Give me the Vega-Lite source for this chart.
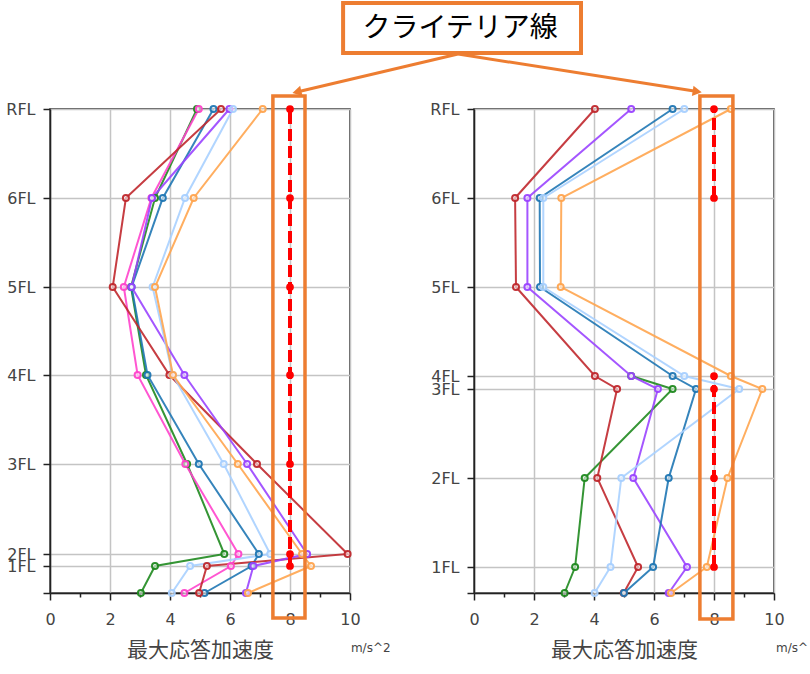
{
  "$schema": "https://vega.github.io/schema/vega-lite/v6.json",
  "padding": {"left": 5, "top": 0, "right": 0, "bottom": 5},
  "autosize": {"type": "pad"},
  "background": "white",
  "bounds": "flush",
  "spacing": 124,
  "datasets": {
    "main": [
      {"panel": "L", "series": "C", "floor": "GL", "h": 0, "v": 3.03},
      {"panel": "L", "series": "C", "floor": "1FL", "h": 27, "v": 3.5},
      {"panel": "L", "series": "C", "floor": "2FL", "h": 39, "v": 5.81},
      {"panel": "L", "series": "C", "floor": "3FL", "h": 129, "v": 4.57},
      {"panel": "L", "series": "C", "floor": "4FL", "h": 218, "v": 3.2},
      {"panel": "L", "series": "C", "floor": "5FL", "h": 306, "v": 2.7},
      {"panel": "L", "series": "C", "floor": "6FL", "h": 395, "v": 3.5},
      {"panel": "L", "series": "C", "floor": "RFL", "h": 484, "v": 4.9},
      {"panel": "L", "series": "B", "floor": "GL", "h": 0, "v": 4.48},
      {"panel": "L", "series": "B", "floor": "1FL", "h": 27, "v": 6.03},
      {"panel": "L", "series": "B", "floor": "2FL", "h": 39, "v": 6.28},
      {"panel": "L", "series": "B", "floor": "3FL", "h": 129, "v": 4.51},
      {"panel": "L", "series": "B", "floor": "4FL", "h": 218, "v": 2.92},
      {"panel": "L", "series": "B", "floor": "5FL", "h": 306, "v": 2.46},
      {"panel": "L", "series": "B", "floor": "6FL", "h": 395, "v": 3.38},
      {"panel": "L", "series": "B", "floor": "RFL", "h": 484, "v": 4.96},
      {"panel": "L", "series": "D", "floor": "GL", "h": 0, "v": 5.15},
      {"panel": "L", "series": "D", "floor": "1FL", "h": 27, "v": 6.72},
      {"panel": "L", "series": "D", "floor": "2FL", "h": 39, "v": 6.96},
      {"panel": "L", "series": "D", "floor": "3FL", "h": 129, "v": 4.96},
      {"panel": "L", "series": "D", "floor": "4FL", "h": 218, "v": 3.25},
      {"panel": "L", "series": "D", "floor": "5FL", "h": 306, "v": 2.72},
      {"panel": "L", "series": "D", "floor": "6FL", "h": 395, "v": 3.76},
      {"panel": "L", "series": "D", "floor": "RFL", "h": 484, "v": 5.45},
      {"panel": "L", "series": "A", "floor": "GL", "h": 0, "v": 4.97},
      {"panel": "L", "series": "A", "floor": "1FL", "h": 27, "v": 5.23},
      {"panel": "L", "series": "A", "floor": "2FL", "h": 39, "v": 9.92},
      {"panel": "L", "series": "A", "floor": "3FL", "h": 129, "v": 6.9},
      {"panel": "L", "series": "A", "floor": "4FL", "h": 218, "v": 3.98},
      {"panel": "L", "series": "A", "floor": "5FL", "h": 306, "v": 2.09},
      {"panel": "L", "series": "A", "floor": "6FL", "h": 395, "v": 2.53},
      {"panel": "L", "series": "A", "floor": "RFL", "h": 484, "v": 5.7},
      {"panel": "L", "series": "E", "floor": "GL", "h": 0, "v": 6.53},
      {"panel": "L", "series": "E", "floor": "1FL", "h": 27, "v": 6.78},
      {"panel": "L", "series": "E", "floor": "2FL", "h": 39, "v": 8.57},
      {"panel": "L", "series": "E", "floor": "3FL", "h": 129, "v": 6.57},
      {"panel": "L", "series": "E", "floor": "4FL", "h": 218, "v": 4.48},
      {"panel": "L", "series": "E", "floor": "5FL", "h": 306, "v": 2.72},
      {"panel": "L", "series": "E", "floor": "6FL", "h": 395, "v": 3.4},
      {"panel": "L", "series": "E", "floor": "RFL", "h": 484, "v": 5.98},
      {"panel": "L", "series": "F", "floor": "GL", "h": 0, "v": 4.06},
      {"panel": "L", "series": "F", "floor": "1FL", "h": 27, "v": 4.67},
      {"panel": "L", "series": "F", "floor": "2FL", "h": 39, "v": 7.34},
      {"panel": "L", "series": "F", "floor": "3FL", "h": 129, "v": 5.79},
      {"panel": "L", "series": "F", "floor": "4FL", "h": 218, "v": 4.09},
      {"panel": "L", "series": "F", "floor": "5FL", "h": 306, "v": 3.42},
      {"panel": "L", "series": "F", "floor": "6FL", "h": 395, "v": 4.5},
      {"panel": "L", "series": "F", "floor": "RFL", "h": 484, "v": 6.1},
      {"panel": "L", "series": "G", "floor": "GL", "h": 0, "v": 6.6},
      {"panel": "L", "series": "G", "floor": "1FL", "h": 27, "v": 8.7},
      {"panel": "L", "series": "G", "floor": "2FL", "h": 39, "v": 8.4},
      {"panel": "L", "series": "G", "floor": "3FL", "h": 129, "v": 6.26},
      {"panel": "L", "series": "G", "floor": "4FL", "h": 218, "v": 4.1},
      {"panel": "L", "series": "G", "floor": "5FL", "h": 306, "v": 3.5},
      {"panel": "L", "series": "G", "floor": "6FL", "h": 395, "v": 4.79},
      {"panel": "L", "series": "G", "floor": "RFL", "h": 484, "v": 7.09},
      {"panel": "R", "series": "C", "floor": "GL", "h": 0, "v": 3.02},
      {"panel": "R", "series": "C", "floor": "1FL", "h": 26, "v": 3.37},
      {"panel": "R", "series": "C", "floor": "2FL", "h": 115, "v": 3.69},
      {"panel": "R", "series": "C", "floor": "3FL", "h": 204, "v": 6.62},
      {"panel": "R", "series": "C", "floor": "4FL", "h": 217, "v": 5.24},
      {"panel": "R", "series": "A", "floor": "GL", "h": 0, "v": 4.99},
      {"panel": "R", "series": "A", "floor": "1FL", "h": 26, "v": 5.47},
      {"panel": "R", "series": "A", "floor": "2FL", "h": 115, "v": 4.11},
      {"panel": "R", "series": "A", "floor": "3FL", "h": 204, "v": 4.77},
      {"panel": "R", "series": "A", "floor": "4FL", "h": 217, "v": 4.03},
      {"panel": "R", "series": "A", "floor": "5FL", "h": 306, "v": 1.4},
      {"panel": "R", "series": "A", "floor": "6FL", "h": 395, "v": 1.37},
      {"panel": "R", "series": "A", "floor": "RFL", "h": 484, "v": 4.03},
      {"panel": "R", "series": "E", "floor": "GL", "h": 0, "v": 6.49},
      {"panel": "R", "series": "E", "floor": "1FL", "h": 26, "v": 7.1},
      {"panel": "R", "series": "E", "floor": "2FL", "h": 115, "v": 5.31},
      {"panel": "R", "series": "E", "floor": "3FL", "h": 204, "v": 6.13},
      {"panel": "R", "series": "E", "floor": "4FL", "h": 217, "v": 5.24},
      {"panel": "R", "series": "E", "floor": "5FL", "h": 306, "v": 1.78},
      {"panel": "R", "series": "E", "floor": "6FL", "h": 395, "v": 1.78},
      {"panel": "R", "series": "E", "floor": "RFL", "h": 484, "v": 5.24},
      {"panel": "R", "series": "D", "floor": "GL", "h": 0, "v": 5.0},
      {"panel": "R", "series": "D", "floor": "1FL", "h": 26, "v": 5.97},
      {"panel": "R", "series": "D", "floor": "2FL", "h": 115, "v": 6.49},
      {"panel": "R", "series": "D", "floor": "3FL", "h": 204, "v": 7.4},
      {"panel": "R", "series": "D", "floor": "4FL", "h": 217, "v": 6.62},
      {"panel": "R", "series": "D", "floor": "5FL", "h": 306, "v": 2.2},
      {"panel": "R", "series": "D", "floor": "6FL", "h": 395, "v": 2.19},
      {"panel": "R", "series": "D", "floor": "RFL", "h": 484, "v": 6.62},
      {"panel": "R", "series": "F", "floor": "GL", "h": 0, "v": 4.02},
      {"panel": "R", "series": "F", "floor": "1FL", "h": 26, "v": 4.55},
      {"panel": "R", "series": "F", "floor": "2FL", "h": 115, "v": 4.91},
      {"panel": "R", "series": "F", "floor": "3FL", "h": 204, "v": 8.84},
      {"panel": "R", "series": "F", "floor": "4FL", "h": 217, "v": 7.01},
      {"panel": "R", "series": "F", "floor": "5FL", "h": 306, "v": 2.31},
      {"panel": "R", "series": "F", "floor": "6FL", "h": 395, "v": 2.31},
      {"panel": "R", "series": "F", "floor": "RFL", "h": 484, "v": 7.01},
      {"panel": "R", "series": "G", "floor": "GL", "h": 0, "v": 6.57},
      {"panel": "R", "series": "G", "floor": "1FL", "h": 26, "v": 7.76},
      {"panel": "R", "series": "G", "floor": "2FL", "h": 115, "v": 8.45},
      {"panel": "R", "series": "G", "floor": "3FL", "h": 204, "v": 9.61},
      {"panel": "R", "series": "G", "floor": "4FL", "h": 217, "v": 8.56},
      {"panel": "R", "series": "G", "floor": "5FL", "h": 306, "v": 2.89},
      {"panel": "R", "series": "G", "floor": "6FL", "h": 395, "v": 2.91},
      {"panel": "R", "series": "G", "floor": "RFL", "h": 484, "v": 8.56}
    ],
    "crit": [
      {"panel": "L", "seg": "a", "floor": "1FL", "h": 27, "v": 8},
      {"panel": "L", "seg": "a", "floor": "2FL", "h": 39, "v": 8},
      {"panel": "L", "seg": "a", "floor": "3FL", "h": 129, "v": 8},
      {"panel": "L", "seg": "a", "floor": "4FL", "h": 218, "v": 8},
      {"panel": "L", "seg": "a", "floor": "5FL", "h": 306, "v": 8},
      {"panel": "L", "seg": "a", "floor": "6FL", "h": 395, "v": 8},
      {"panel": "L", "seg": "a", "floor": "RFL", "h": 484, "v": 8},
      {"panel": "R", "seg": "a", "floor": "6FL", "h": 395, "v": 8},
      {"panel": "R", "seg": "a", "floor": "RFL", "h": 484, "v": 8},
      {"panel": "R", "seg": "b", "floor": "1FL", "h": 26, "v": 8},
      {"panel": "R", "seg": "b", "floor": "2FL", "h": 115, "v": 8},
      {"panel": "R", "seg": "b", "floor": "3FL", "h": 204, "v": 8},
      {"panel": "R", "seg": "b", "floor": "4FL", "h": 217, "v": 8}
    ]
  },
  "hconcat": [
    {
      "width": 300,
      "height": 484,
      "resolve": {"axis": {"x": "independent"}},
      "layer": [
        {
          "layer": [
            {
              "data": {"name": "main"},
              "transform": [{"filter": "datum.panel == 'L'"}],
              "mark": {"type": "line", "strokeWidth": 2, "opacity": 0.9},
              "encoding": {
                "x": {"field": "v", "type": "quantitative", "scale": {"domain": [0, 10], "nice": false, "zero": false},
                  "axis": {"values": [0, 2, 4, 6, 8, 10], "title": "最大応答加速度", "tickSize": 7, "labelPadding": 11, "titlePadding": 12, "labelFlush": false, "grid": true, "format": "d"}},
                "y": {"field": "h", "type": "quantitative", "scale": {"domain": [0, 484], "nice": false, "zero": false},
                  "axis": {"values": [0, 27, 39, 129, 218, 306, 395, 484], "labelExpr": "datum.value == 484 ? 'RFL' : datum.value == 395 ? '6FL' : datum.value == 306 ? '5FL' : datum.value == 218 ? '4FL' : datum.value == 129 ? '3FL' : datum.value == 39 ? '2FL' : datum.value == 27 ? '1FL' : ''", "title": null, "tickSize": 7, "labelPadding": 8, "labelOverlap": false, "labelFlush": false, "grid": true}},
                "color": {"field": "series", "type": "nominal", "legend": null,
                  "scale": {"domain": ["A", "B", "C", "D", "E", "F", "G"], "range": ["#c0282d", "#ff44cc", "#1f8a1f", "#1f77b4", "#9a44ff", "#a8d0ff", "#ffa54f"]}},
                "order": {"field": "h", "type": "quantitative"}
              }
            },
            {
              "data": {"name": "main"},
              "transform": [{"filter": "datum.panel == 'L'"}],
              "mark": {"type": "point", "filled": false, "fill": "white", "fillOpacity": 0.6, "size": 36, "strokeWidth": 2, "opacity": 0.95},
              "encoding": {
                "x": {"field": "v", "type": "quantitative"},
                "y": {"field": "h", "type": "quantitative"},
                "color": {"field": "series", "type": "nominal", "legend": null}
              }
            },
            {
              "data": {"name": "crit"},
              "transform": [{"filter": "datum.panel == 'L'"}],
              "mark": {"type": "line", "color": "#ff0000", "strokeWidth": 4, "strokeDash": [12, 5]},
              "encoding": {
                "x": {"field": "v", "type": "quantitative"},
                "y": {"field": "h", "type": "quantitative"},
                "detail": {"field": "seg"},
                "order": {"field": "h", "type": "quantitative"}
              }
            },
            {
              "data": {"name": "crit"},
              "transform": [{"filter": "datum.panel == 'L'"}],
              "mark": {"type": "circle", "color": "#ff0000", "size": 60, "opacity": 1},
              "encoding": {
                "x": {"field": "v", "type": "quantitative"},
                "y": {"field": "h", "type": "quantitative"}
              }
            },
            {
              "data": {"values": [{}]},
              "mark": {"type": "rect", "fill": "white", "fillOpacity": 0, "stroke": "#ED7D31", "strokeWidth": 3.5},
              "encoding": {
                "x": {"datum": 7.43, "type": "quantitative"}, "x2": {"datum": 8.5},
                "y": {"datum": 497, "type": "quantitative"}, "y2": {"datum": -25}
              }
            },
            {
              "data": {"values": [{}]},
              "mark": {"type": "rect", "fill": "white", "stroke": "#ED7D31", "strokeWidth": 4},
              "encoding": {
                "x": {"datum": 9.77, "type": "quantitative"}, "x2": {"datum": 17.7},
                "y": {"datum": 590, "type": "quantitative"}, "y2": {"datum": 540}
              }
            },
            {
              "data": {"values": [{}]},
              "mark": {"type": "text", "font": "Noto Sans CJK JP", "fontSize": 28, "color": "#000000", "align": "center", "baseline": "middle"},
              "encoding": {
                "x": {"datum": 13.67, "type": "quantitative"},
                "y": {"datum": 564.5, "type": "quantitative"},
                "text": {"value": "クライテリア線"}
              }
            },
            {
              "data": {"values": [{}]},
              "mark": {"type": "rule", "color": "#ED7D31", "strokeWidth": 3},
              "encoding": {
                "x": {"datum": 13.6, "type": "quantitative"}, "x2": {"datum": 8.23},
                "y": {"datum": 539, "type": "quantitative"}, "y2": {"datum": 501}
              }
            },
            {
              "data": {"values": [{}]},
              "mark": {"type": "point", "shape": "triangle-up", "filled": true, "color": "#ED7D31", "size": 110, "angle": 256.8, "opacity": 1},
              "encoding": {
                "x": {"datum": 8.23, "type": "quantitative"},
                "y": {"datum": 501, "type": "quantitative"}
              }
            },
            {
              "data": {"values": [{}]},
              "mark": {"type": "text", "font": "DejaVu Sans", "fontSize": 12, "color": "#444444", "align": "left", "baseline": "middle"},
              "encoding": {
                "x": {"datum": 10.03, "type": "quantitative"},
                "y": {"datum": -55, "type": "quantitative"},
                "text": {"value": "m/s^2"}
              }
            }
          ]
        },
        {
          "mark": {"type": "rule", "opacity": 0},
          "encoding": {
            "x": {"datum": 0, "type": "quantitative", "scale": {"domain": [0, 10], "nice": false, "zero": false},
              "axis": {"values": [1, 3, 5, 7, 9], "labels": false, "grid": false, "domain": false, "ticks": true, "tickSize": 4, "title": null, "orient": "bottom"}}
          }
        }
      ]
    },
    {
      "width": 300,
      "height": 484,
      "resolve": {"axis": {"x": "independent"}},
      "layer": [
        {
          "layer": [
            {
              "data": {"name": "main"},
              "transform": [{"filter": "datum.panel == 'R'"}],
              "mark": {"type": "line", "strokeWidth": 2, "opacity": 0.9},
              "encoding": {
                "x": {"field": "v", "type": "quantitative", "scale": {"domain": [0, 10], "nice": false, "zero": false},
                  "axis": {"values": [0, 2, 4, 6, 8, 10], "title": "最大応答加速度", "tickSize": 7, "labelPadding": 11, "titlePadding": 12, "labelFlush": false, "grid": true, "format": "d"}},
                "y": {"field": "h", "type": "quantitative", "scale": {"domain": [0, 484], "nice": false, "zero": false},
                  "axis": {"values": [0, 26, 115, 204, 217, 306, 395, 484], "labelExpr": "datum.value == 484 ? 'RFL' : datum.value == 395 ? '6FL' : datum.value == 306 ? '5FL' : datum.value == 217 ? '4FL' : datum.value == 204 ? '3FL' : datum.value == 115 ? '2FL' : datum.value == 26 ? '1FL' : ''", "title": null, "tickSize": 7, "labelPadding": 8, "labelOverlap": false, "labelFlush": false, "grid": true}},
                "color": {"field": "series", "type": "nominal", "legend": null,
                  "scale": {"domain": ["A", "B", "C", "D", "E", "F", "G"], "range": ["#c0282d", "#ff44cc", "#1f8a1f", "#1f77b4", "#9a44ff", "#a8d0ff", "#ffa54f"]}},
                "order": {"field": "h", "type": "quantitative"}
              }
            },
            {
              "data": {"name": "main"},
              "transform": [{"filter": "datum.panel == 'R'"}],
              "mark": {"type": "point", "filled": false, "fill": "white", "fillOpacity": 0.6, "size": 36, "strokeWidth": 2, "opacity": 0.95},
              "encoding": {
                "x": {"field": "v", "type": "quantitative"},
                "y": {"field": "h", "type": "quantitative"},
                "color": {"field": "series", "type": "nominal", "legend": null}
              }
            },
            {
              "data": {"name": "crit"},
              "transform": [{"filter": "datum.panel == 'R'"}],
              "mark": {"type": "line", "color": "#ff0000", "strokeWidth": 4, "strokeDash": [12, 5]},
              "encoding": {
                "x": {"field": "v", "type": "quantitative"},
                "y": {"field": "h", "type": "quantitative"},
                "detail": {"field": "seg"},
                "order": {"field": "h", "type": "quantitative"}
              }
            },
            {
              "data": {"name": "crit"},
              "transform": [{"filter": "datum.panel == 'R'"}],
              "mark": {"type": "circle", "color": "#ff0000", "size": 60, "opacity": 1},
              "encoding": {
                "x": {"field": "v", "type": "quantitative"},
                "y": {"field": "h", "type": "quantitative"}
              }
            },
            {
              "data": {"values": [{}]},
              "mark": {"type": "rect", "fill": "white", "fillOpacity": 0, "stroke": "#ED7D31", "strokeWidth": 3.5},
              "encoding": {
                "x": {"datum": 7.53, "type": "quantitative"}, "x2": {"datum": 8.63},
                "y": {"datum": 497, "type": "quantitative"}, "y2": {"datum": -26}
              }
            },
            {
              "data": {"values": [{}]},
              "mark": {"type": "rule", "color": "#ED7D31", "strokeWidth": 3},
              "encoding": {
                "x": {"datum": -0.53, "type": "quantitative"}, "x2": {"datum": 7.44},
                "y": {"datum": 539, "type": "quantitative"}, "y2": {"datum": 501.4}
              }
            },
            {
              "data": {"values": [{}]},
              "mark": {"type": "point", "shape": "triangle-up", "filled": true, "color": "#ED7D31", "size": 110, "angle": 98.9, "opacity": 1},
              "encoding": {
                "x": {"datum": 7.44, "type": "quantitative"},
                "y": {"datum": 501.4, "type": "quantitative"}
              }
            },
            {
              "data": {"values": [{}]},
              "mark": {"type": "text", "font": "DejaVu Sans", "fontSize": 12, "color": "#444444", "align": "left", "baseline": "middle", "limit": 33, "ellipsis": "\u200b"},
              "encoding": {
                "x": {"datum": 10.07, "type": "quantitative"},
                "y": {"datum": -55, "type": "quantitative"},
                "text": {"value": "m/s^2"}
              }
            }
          ]
        },
        {
          "mark": {"type": "rule", "opacity": 0},
          "encoding": {
            "x": {"datum": 0, "type": "quantitative", "scale": {"domain": [0, 10], "nice": false, "zero": false},
              "axis": {"values": [1, 3, 5, 7, 9], "labels": false, "grid": false, "domain": false, "ticks": true, "tickSize": 4, "title": null, "orient": "bottom"}}
          }
        }
      ]
    }
  ],
  "config": {
    "view": {"stroke": "#222222", "strokeWidth": 1.5},
    "axis": {
      "labelFont": "DejaVu Sans", "labelFontSize": 16, "labelColor": "#444444",
      "domainColor": "#222222", "domainWidth": 1.5, "tickColor": "#222222", "tickWidth": 1.5,
      "gridColor": "#c4c4c4", "gridWidth": 1.5,
      "titleFont": "Noto Sans CJK JP", "titleFontSize": 21, "titleFontWeight": "normal", "titleColor": "#444444"
    }
  }
}
